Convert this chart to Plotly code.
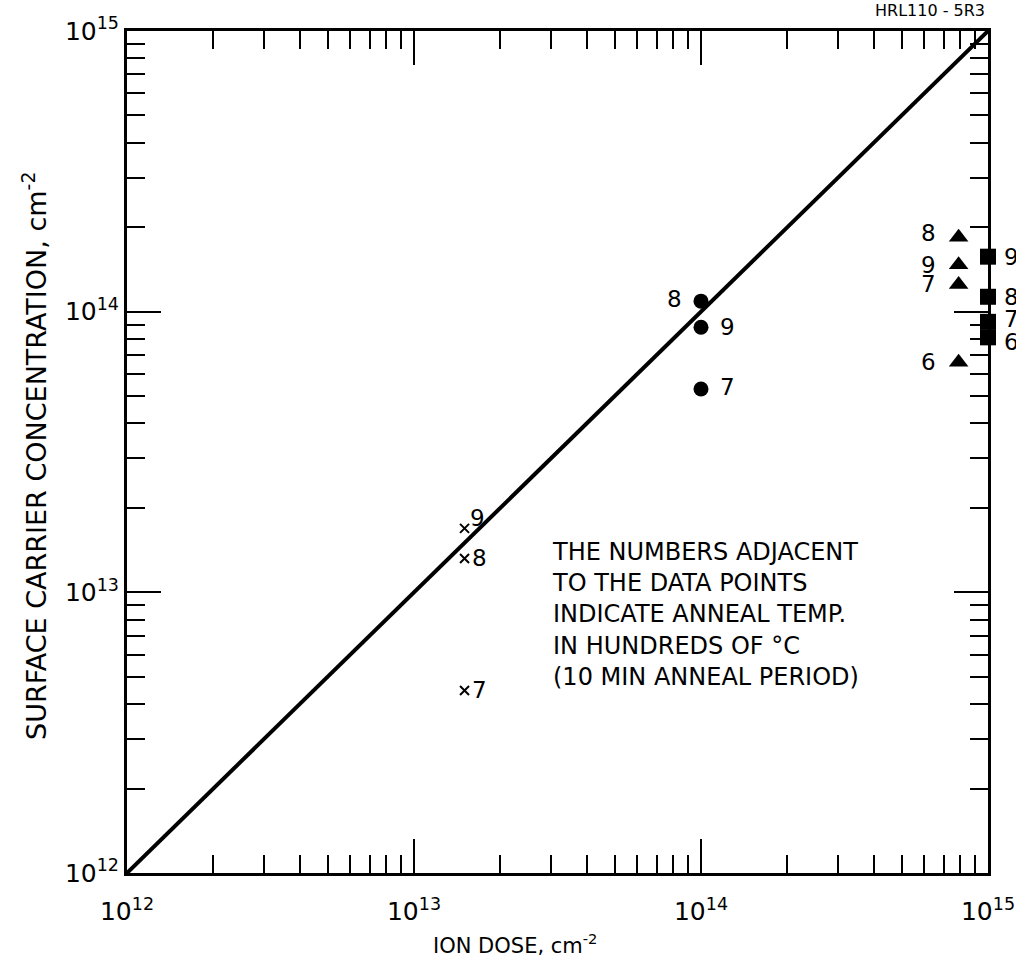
import math
import plotly.graph_objects as go

# ---- data ----
line_x = [1e12, 1e15]
line_y = [1e12, 1e15]

x_dose = [1.5e13, 1.5e13, 1.5e13]
x_conc = [1.69e13, 1.32e13, 4.47e12]
x_temp = ["9", "8", "7"]

circ_dose = [1e14, 1e14, 1e14]
circ_conc = [1.09e14, 8.8e13, 5.3e13]
circ_temp = ["8", "9", "7"]

tri_dose = [7.9e14, 7.9e14, 7.9e14, 7.9e14]
tri_conc = [1.84e14, 1.47e14, 1.25e14, 6.6e13]
tri_temp = ["8", "9", "7", "6"]

sq_dose = [1e15, 1e15, 1e15, 1e15]
sq_conc = [1.57e14, 1.13e14, 9.2e13, 8.1e13]
sq_temp = ["9", "8", "7", "6"]

major_vals = [1e12, 1e13, 1e14, 1e15]
major_text = ["10<sup>12</sup>", "10<sup>13</sup>", "10<sup>14</sup>", "10<sup>15</sup>"]
minor_vals = [m * 10 ** e for e in (12, 13, 14) for m in range(2, 10)]

FONT = "DejaVu Sans"
L, R, T, B = 127, 28, 31, 99
W, H = 1016, 972
PW, PH = W - L - R, H - T - B

fig = go.Figure()
fig.add_trace(go.Scatter(x=line_x, y=line_y, mode="lines",
                         line=dict(color="black", width=4), showlegend=False))
fig.add_trace(go.Scatter(x=x_dose, y=x_conc, mode="markers",
                         marker=dict(symbol="x-thin", size=9, line=dict(color="black", width=2)),
                         showlegend=False, cliponaxis=False))
fig.add_trace(go.Scatter(x=circ_dose, y=circ_conc, mode="markers",
                         marker=dict(symbol="circle", size=15, color="black"),
                         showlegend=False, cliponaxis=False))
fig.add_trace(go.Scatter(x=tri_dose, y=tri_conc, mode="markers",
                         marker=dict(symbol="triangle-up", size=17, color="black"),
                         showlegend=False, cliponaxis=False))
fig.add_trace(go.Scatter(x=sq_dose, y=sq_conc, mode="markers",
                         marker=dict(symbol="square", size=16, color="black"),
                         showlegend=False, cliponaxis=False))

ann = []
lab_font = dict(family=FONT, size=23, color="black")


def add_labels(xs, ys, texts, offsets, anchor="center"):
    for xv, yv, t, (dx, dy) in zip(xs, ys, texts, offsets):
        ann.append(dict(x=math.log10(xv), y=math.log10(yv), xref="x", yref="y", text=t,
                        showarrow=False, xanchor=anchor, yanchor="middle",
                        xshift=dx, yshift=dy, font=lab_font))


add_labels(x_dose, x_conc, x_temp, [(13, 10), (15, 0), (15, 0)])
add_labels(circ_dose, circ_conc, circ_temp, [(-27, 2), (26, 0), (26, 2)])
add_labels(tri_dose, tri_conc, tri_temp, [(-30, 4), (-30, 0), (-30, 0), (-30, 0)])
add_labels(sq_dose, sq_conc, sq_temp, [(14, 0), (14, 0), (14, 3), (14, -5)], anchor="left")


def px(xp):
    return (xp - L) / PW


def py(yp):
    return (H - B - yp) / PH


note = ("THE NUMBERS ADJACENT<br>TO THE DATA POINTS<br>INDICATE ANNEAL TEMP.<br>"
        "IN HUNDREDS OF °C<br>(10 MIN ANNEAL PERIOD)")
ann.append(dict(x=px(550), y=py(536), xref="paper", yref="paper",
                text=note, showarrow=False, xanchor="left", yanchor="top", align="left",
                font=dict(family=FONT, size=24, color="black")))
ann.append(dict(x=px(515), y=py(944), xref="paper", yref="paper",
                text="ION DOSE, cm<sup>-2</sup>", showarrow=False, xanchor="center",
                yanchor="middle", font=dict(family=FONT, size=21, color="black")))
ann.append(dict(x=px(34), y=py(456), xref="paper", yref="paper",
                text="SURFACE CARRIER CONCENTRATION, cm<sup>-2</sup>", showarrow=False,
                textangle=-90, xanchor="center", yanchor="middle",
                font=dict(family=FONT, size=27, color="black")))
ann.append(dict(x=px(930), y=py(10), xref="paper", yref="paper",
                text="HRL110 - 5R3", showarrow=False, xanchor="center", yanchor="middle",
                font=dict(family=FONT, size=16, color="black")))

axis_common = dict(type="log", range=[12, 15], tickvals=major_vals, ticktext=major_text,
                   ticks="inside", ticklen=34, tickwidth=2, tickcolor="black",
                   showline=True, linecolor="black", linewidth=3, mirror="allticks",
                   showgrid=False, zeroline=False, ticklabeloverflow="allow",
                   automargin=False,
                   tickfont=dict(family=FONT, size=25, color="black"),
                   minor=dict(tickvals=minor_vals, ticks="inside", ticklen=18,
                              tickwidth=2, tickcolor="black", showgrid=False))

fig.update_layout(
    width=W, height=H,
    margin=dict(l=L, r=R, t=T, b=B, autoexpand=False),
    paper_bgcolor="white", plot_bgcolor="white",
    xaxis=dict(**axis_common, ticklabelstandoff=14),
    yaxis=dict(**axis_common, ticklabelstandoff=0),
    annotations=ann,
    showlegend=False,
)
fig.write_html("out.html")
